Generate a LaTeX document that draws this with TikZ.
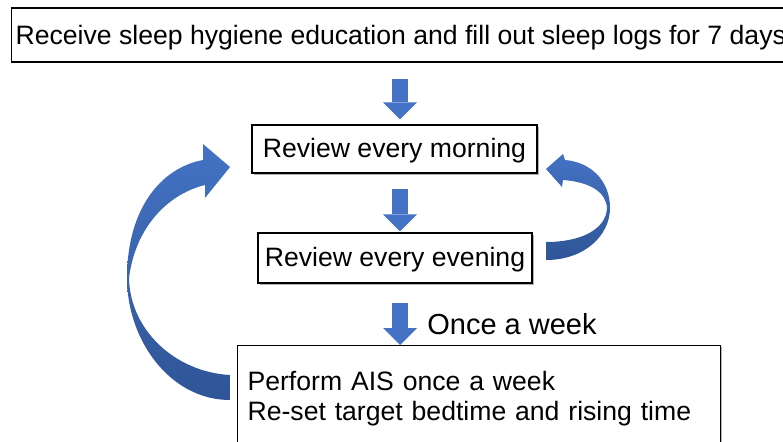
\documentclass[tikz,border=0pt]{standalone}
\usepackage{fontspec}
\setmainfont{Liberation Sans}
\usetikzlibrary{arrows.meta, calc, shadows}

\definecolor{arrowblue}{HTML}{4472C4}
\definecolor{ribbondark}{HTML}{2F5597}

\tikzset{
    box/.style={draw, line width=1.2pt, fill=white, font=\fontsize{26.6}{30}\selectfont,
        drop shadow={shadow xshift=1.5pt, shadow yshift=-1.5pt, fill=black!60, opacity=0.5}},
    linebox/.style={box, text height=19pt, text depth=3pt},
    blockarrow/.style={arrowblue, line width=16pt, -{Triangle[width=34pt, length=17pt, line width=0pt]}},
    ribbon/.style={top color=arrowblue, bottom color=ribbondark}
}

\begin{document}
\begin{tikzpicture}[x=1pt, y=-1pt]
        \useasboundingbox (0, 0) rectangle (783, 441);
        \clip (0, 0) rectangle (783, 441);

        \node[linebox, anchor=west, minimum height=54pt, inner xsep=4pt, text depth=0pt] (recv) at (11, 35)
            {Receive sleep hygiene education and fill out sleep logs for 7 days};
        \node[linebox, minimum width=285pt, minimum height=48pt] (morning) at (394.5, 149) {Review every morning};
        \node[linebox, minimum width=274pt, minimum height=50pt] (evening) at (395, 258) {Review every evening};
        \node[box, anchor=north west, align=left, text width=463pt, inner xsep=10pt, inner ysep=26pt, text depth=40pt]
            (plan) at (237, 345) {Perform AIS once a week\\Re-set target bedtime and rising time};

        \coordinate (axis) at (400, 0);
        \draw[blockarrow] ($(recv.south -| axis) + (0, 16)$) -- ($(morning.north -| axis) + (0, -5)$);
        \draw[blockarrow] ($(morning.south -| axis) + (0, 15)$) -- ($(evening.north -| axis) + (0, -1)$);
        \draw[blockarrow] ($(evening.south -| axis) + (0, 19)$) -- (plan.north -| axis)
            node[midway, anchor=west, xshift=16pt, text=black, font=\fontsize{29}{34}\selectfont] (weekly) {Once a week};

        % weekly loop back to the morning review
        \shade[ribbon] (230, 400) .. controls (170, 400) and (127, 340) .. (127, 278)
            .. controls (127, 210) and (160, 168) .. (203, 160) -- (203, 144) -- (230, 167) -- (205, 198) -- (205, 185)
            .. controls (165, 195) and (135, 230) .. (129, 278)
            .. controls (130, 330) and (175, 372) .. (230, 375) -- cycle;

        % daily loop from evening to morning
        \shade[ribbon] (546, 260) .. controls (585, 260) and (610, 235) .. (610, 208)
            .. controls (610, 180) and (590, 162) .. (565, 160) -- (563, 154) -- (546, 169) -- (562, 187) -- (563, 180)
            .. controls (590, 182) and (606, 192) .. (607, 208)
            .. controls (606, 230) and (580, 242) .. (546, 242) -- cycle;
\end{tikzpicture}
\end{document}
